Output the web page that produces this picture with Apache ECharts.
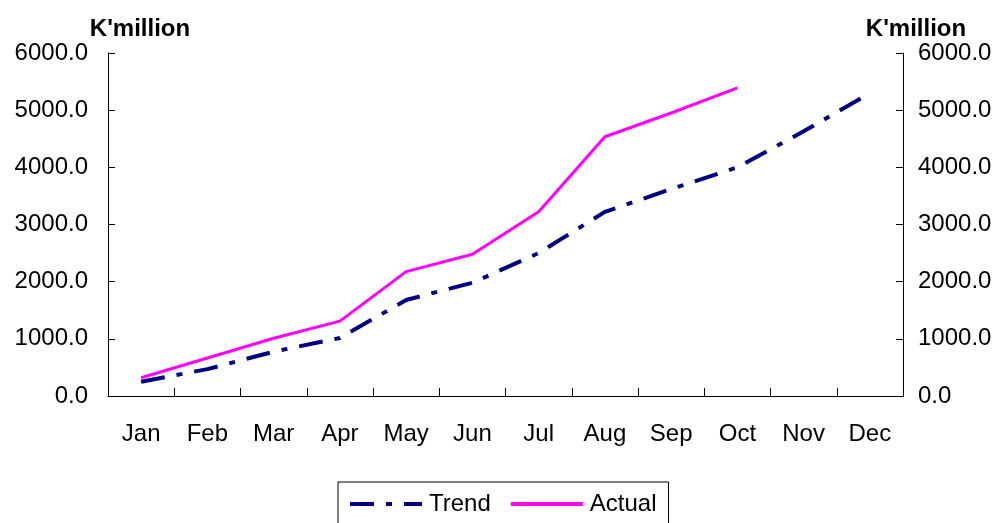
<!DOCTYPE html>
<html>
<head>
<meta charset="utf-8">
<script src="https://cdn.jsdelivr.net/npm/echarts@6/dist/echarts.min.js"></script>
<style>
html, body { margin: 0; padding: 0; background: #fff; }
#chart { width: 1001px; height: 523px; }
</style>
</head>
<body>
<div id="chart"></div>
<script>
var months = ['Jan', 'Feb', 'Mar', 'Apr', 'May', 'Jun', 'Jul', 'Aug', 'Sep', 'Oct', 'Nov', 'Dec'];
var trend = [250, 470, 775, 1015, 1680, 1980, 2500, 3220, 3620, 4000, 4630, 5300];
var actual = [320, 665, 1010, 1310, 2175, 2480, 3225, 4535, 4950, 5390];
var yMin = 0, yMax = 6000, yStep = 1000;

var font = 'Arial, "Liberation Sans", sans-serif';
var chart = echarts.init(document.getElementById('chart'));

function valueAxis(pos, labelMargin, namePad) {
	return {
		type: 'value',
		position: pos,
		min: yMin,
		max: yMax,
		interval: yStep,
		name: "K'million",
		nameLocation: 'end',
		nameGap: 10,
		nameTextStyle: { color: '#000', fontFamily: font, fontSize: 24, fontWeight: 'bold', padding: namePad },
		axisLine: { show: true, lineStyle: { color: '#000', width: 1 } },
		axisTick: { show: true, inside: true, length: 7, lineStyle: { color: '#000' } },
		axisLabel: {
			color: '#000', fontFamily: font, fontSize: 24, margin: labelMargin,
			formatter: function (v) { return v.toFixed(1); }
		},
		splitLine: { show: false }
	};
}

chart.setOption({
	animation: false,
	backgroundColor: '#fff',
	grid: { left: 108, right: 98, top: 53, bottom: 127, containLabel: false },
	legend: {
		bottom: -9,
		left: 338,
		itemWidth: 72,
		itemHeight: 14,
		itemGap: 18,
		padding: [10, 12, 16, 10],
		borderColor: '#000',
		borderWidth: 1,
		itemStyle: { opacity: 0 },
		lineStyle: { width: 4 },
		textStyle: { color: '#000', fontFamily: font, fontSize: 24, padding: [0, 0, 0, 2] },
		data: ['Trend', 'Actual']
	},
	xAxis: {
		type: 'category',
		data: months,
		boundaryGap: true,
		axisLine: { lineStyle: { color: '#000', width: 1 } },
		axisTick: { show: true, inside: true, length: 8, lineStyle: { color: '#000' } },
		axisLabel: { color: '#000', fontFamily: font, fontSize: 24, margin: 26, interval: 0 }
	},
	yAxis: [
		valueAxis('left', 20, [0, 0, 0, 64]),
		valueAxis('right', 15, [0, 0, 0, 26])
	],
	series: [
		{
			name: 'Trend',
			type: 'line',
			data: trend,
			symbol: 'none',
			color: '#000080',
			lineStyle: { color: '#000080', width: 4, type: [24, 12, 6, 12] }
		},
		{
			name: 'Actual',
			type: 'line',
			data: actual,
			symbol: 'none',
			color: '#ff00ff',
			lineStyle: { color: '#ff00ff', width: 3 }
		}
	]
});
</script>
</body>
</html>
